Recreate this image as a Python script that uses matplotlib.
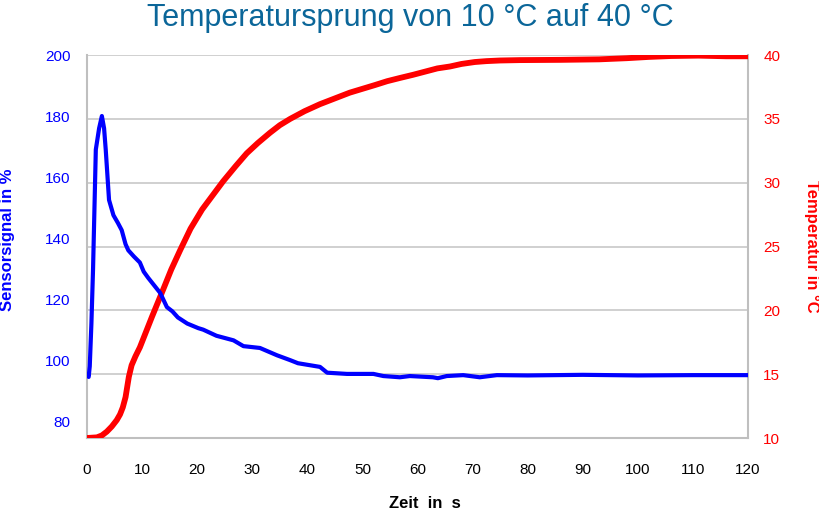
import matplotlib
matplotlib.use("Agg")
import matplotlib.pyplot as plt
from matplotlib import font_manager

# Sensor signal (left axis)
t_sensor = [0, 0.3, 0.5, 0.8, 1.1, 1.6, 2.2, 2.7, 3.1, 3.4, 4.0, 4.8, 5.6, 6.3, 7.0,
            7.5, 8.5, 9.6, 10.3, 11.1, 12.2, 13.3, 14.5, 15.5, 16.5, 18.2, 20.2, 21.1,
            23.5, 26.6, 28.4, 31.4, 34.5, 36.9, 38.3, 42.3, 43.6, 47.2, 52.0, 53.8,
            56.8, 58.6, 62.8, 63.7, 65.3, 68.3, 71.3, 74.4, 80, 90, 100, 110, 120]
signal = [95.5, 94.5, 98, 112, 130, 169, 176, 180, 176, 169, 152.5, 147.5, 145, 142.6,
          138, 136, 134, 132, 129, 127, 124.5, 122, 117.4, 116, 114, 112, 110.5, 110,
          108, 106.5, 104.6, 104, 101.6, 100, 99, 97.8, 95.9, 95.5, 95.5, 94.8,
          94.4, 94.8, 94.4, 94.1, 94.8, 95.1, 94.4, 95.1, 95.0, 95.2, 95.0, 95.1, 95.1]

# Temperature (right axis)
t_temp = [0, 1.8, 2.7, 3.6, 4.5, 5.4, 6.0, 6.5, 7.0, 7.3, 7.6, 8.1, 8.8, 9.6, 10.7,
          11.8, 12.8, 13.8, 15.3, 16.9, 18.8, 20.9, 22.8, 24.7, 27.0, 29.0, 31.0,
          33.2, 35.0, 36.9, 39.5, 42.3, 45.0, 47.7, 50.0, 52.3, 54.5, 56.8, 59.2,
          61.4, 63.6, 65.9, 68.0, 70.4, 72.5, 75.0, 78.6, 86, 93, 98, 102, 106, 111,
          116, 120]
temp = [10, 10.05, 10.2, 10.5, 10.9, 11.4, 11.85, 12.4, 13.2, 14.0, 14.8, 15.7, 16.4,
        17.1, 18.3, 19.5, 20.55, 21.6, 23.2, 24.7, 26.4, 27.9, 29.0, 30.1, 31.3, 32.3,
        33.1, 33.9, 34.5, 35.0, 35.6, 36.15, 36.6, 37.05, 37.35, 37.65, 37.95, 38.2,
        38.45, 38.7, 38.95, 39.1, 39.3, 39.45, 39.52, 39.57, 39.6, 39.62, 39.66, 39.75,
        39.85, 39.92, 39.95, 39.9, 39.9]

x_ticks = list(range(0, 121, 10))
left_ticks = [80, 100, 120, 140, 160, 180, 200]
right_ticks = [10, 15, 20, 25, 30, 35, 40]

installed = {f.name for f in font_manager.fontManager.ttflist}
narrow = "Liberation Sans Narrow" if "Liberation Sans Narrow" in installed else "Liberation Sans"

plt.rcParams["font.family"] = ["Liberation Sans", "DejaVu Sans"]

BLUE = "#0000ff"
RED = "#ff0000"

fig = plt.figure(figsize=(8.2, 5.11), dpi=100)
ax = fig.add_axes([87 / 820, 1 - 438 / 511, (748 - 87) / 820, (438 - 55) / 511])
ax2 = ax.twinx()

ax2.grid(axis="y", color="#c8c8c8", linewidth=1.2)
ax2.set_axisbelow(True)
ax.set_zorder(ax2.get_zorder() + 1)
ax.patch.set_visible(False)

ax2.plot(t_temp, temp, color=RED, linewidth=4.2, solid_capstyle="butt",
         solid_joinstyle="round", zorder=3)
ax.plot(t_sensor, signal, color=BLUE, linewidth=3.0, solid_capstyle="butt",
        solid_joinstyle="round", zorder=3)

ax.set_xlim(0, 120)
ax.set_ylim(74.5, 200)
ax2.set_ylim(10, 40)

ax.set_xticks(x_ticks)
ax.set_yticks(left_ticks)
ax2.set_yticks(right_ticks)

ax.tick_params(axis="x", length=0, pad=18, labelsize=11, labelcolor="black")
ax.tick_params(axis="y", length=0, pad=12, labelsize=11, labelcolor=BLUE)
ax2.tick_params(axis="y", length=0, pad=11, labelsize=11, labelcolor=RED)

for a in (ax, ax2):
    for side in ("top", "right", "left", "bottom"):
        a.spines[side].set_visible(False)
for side in ("left", "right", "bottom"):
    ax2.spines[side].set_visible(True)
    ax2.spines[side].set_color("#bfbfbf")
    ax2.spines[side].set_linewidth(1.5)

fig.text(0.5, 0.965, "Temperatursprung von 10 °C auf 40 °C", ha="center", va="center",
         fontsize=22, color="#0b6699", family=[narrow, "DejaVu Sans"])
fig.text(8 / 820, 1 - 240 / 511, "Sensorsignal in %", rotation=90, ha="center",
         va="center", fontsize=12, fontweight="bold", color=BLUE)
fig.text(812 / 820, 1 - 246 / 511, "Temperatur in °C", rotation=-90, ha="center",
         va="center", fontsize=12, fontweight="bold", color=RED)
fig.text(425 / 820, 1 - 503 / 511, "Zeit  in  s", ha="center", va="center",
         fontsize=12, fontweight="bold", color="black")

fig.savefig("out.png", dpi=100, facecolor="white")
